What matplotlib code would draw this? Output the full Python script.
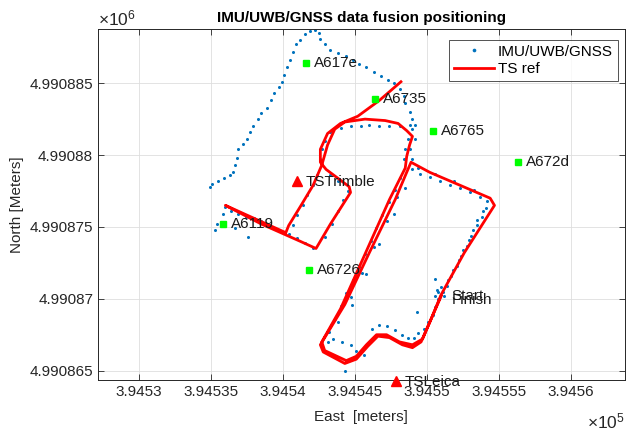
import numpy as np
import matplotlib
matplotlib.use("Agg")
import matplotlib.pyplot as plt
from matplotlib.ticker import FuncFormatter

plt.rcParams['font.family'] = ['Liberation Sans', 'DejaVu Sans']
plt.rcParams['font.size'] = 11
plt.rcParams['mathtext.fontset'] = 'custom'
plt.rcParams['mathtext.rm'] = 'Liberation Sans'

# base of the local coordinates (UTM, meters)
E0 = 394500.0
N0 = 4990860.0

# TS reference trajectory (offsets from E0 / N0, meters)
ts_e = [48.2, 46.7, 45.2, 44.0, 43.1, 42.6, 42.6, 43.0, 44.6, 44.7, 43.3, 42.3, 41.2, 38.5, 36.0,
        40.2, 40.4, 41.2, 42.1, 42.7, 43.1, 43.6, 44.3, 45.7, 47.1, 48.0, 48.6, 49.0, 48.8, 48.6,
        48.5, 47.4, 45.7, 44.0, 42.7, 42.9, 44.4, 45.1, 45.8, 46.5, 47.2, 48.1, 49.0, 49.7, 50.3,
        51.0, 52.6, 54.7, 54.4, 52.3, 50.2, 48.9, 48.6, 47.8, 46.0, 44.3, 42.6, 42.8, 44.3, 45.1,
        45.9, 46.6, 47.4, 48.3, 49.0, 49.6, 50.3, 51.0]
ts_n = [25.1, 23.8, 22.7, 22.2, 21.5, 20.4, 19.5, 19.0, 17.8, 17.4, 15.2, 13.5, 14.0, 15.2, 16.5,
        14.6, 15.1, 16.4, 17.9, 19.3, 20.7, 21.8, 22.3, 22.5, 22.4, 22.2, 21.7, 21.3, 20.7, 19.9,
        19.1, 16.9, 13.1, 9.3, 7.0, 6.4, 5.7, 6.0, 6.8, 7.5, 7.5, 7.0, 6.8, 7.2, 8.6,
        10.3, 13.2, 16.5, 17.0, 17.9, 18.8, 19.5, 18.8, 16.9, 13.2, 9.6, 6.8, 6.3, 5.5, 5.8,
        6.7, 7.4, 7.3, 6.8, 6.6, 7.0, 8.6, 10.2]

# IMU/UWB/GNSS fused positions (offsets from E0 / N0, meters)
fus_e = [34.9, 35.1, 35.5, 35.9, 36.3, 36.5, 36.7, 36.8, 36.9, 37.2, 37.5, 37.7, 37.9, 38.3, 38.5,
         38.9, 39.2, 39.4, 39.7, 39.9, 40.1, 40.3, 40.5, 40.7, 40.9, 41.2, 41.5, 41.9, 42.2, 42.5,
         42.6, 42.9, 43.3, 43.8, 44.4, 44.9, 45.3, 45.8, 46.3, 46.8, 47.3, 47.7, 48.1, 48.4, 48.5,
         48.8, 49.0, 48.8, 48.1, 47.4, 46.7, 46.0, 45.4, 44.7, 44.0, 43.3, 42.9, 42.7, 42.6,
         42.4, 42.1, 41.7, 41.4, 41.0, 40.7,
         42.1, 41.5, 41.0, 40.4, 39.7, 39.1, 38.5, 38.0, 37.4, 36.9, 36.4, 36.0, 35.8, 35.4, 35.3,
         37.6, 36.7,
         42.9, 43.4, 43.8, 44.2, 44.5, 43.8, 43.3,
         49.0, 48.7, 48.5, 48.4,
         48.1, 47.8, 47.4, 46.9, 46.5, 46.1, 45.7, 45.3, 44.9, 44.4, 44.0, 43.6, 43.2, 43.1,
         48.5, 47.7, 46.7, 45.8, 44.8,
         43.5, 44.1, 44.7, 45.1, 44.3, 45.6,
         46.2, 46.7, 47.2, 47.8, 48.3, 48.7, 49.1, 49.4, 49.8,
         50.1, 50.4, 50.6, 50.8, 51.1, 50.7, 51.4, 51.7, 52.1, 52.4, 52.8, 53.1, 53.5, 53.8,
         54.1, 54.2,
         53.7, 53.0, 52.3, 51.6, 50.9, 50.2, 49.5, 49.0,
         50.6, 49.3,
         51.5, 51.8, 52.2, 52.5, 52.9, 53.2, 53.5, 53.9,
         53.3, 51.9, 50.6, 49.4,
         50.8, 51.0, 50.6, 51.2,
         47.9, 47.2, 46.3, 45.5, 44.7, 43.8,
         49.2, 49.2, 48.8, 49.0]
fus_n = [17.8, 18.0, 18.2, 18.4, 18.6, 18.8, 19.3, 19.8, 20.4, 20.8, 21.1, 21.6, 22.0, 22.5, 22.9,
         23.3, 23.8, 24.3, 24.7, 25.1, 25.6, 26.1, 26.6, 27.2, 27.7, 28.0, 28.4, 28.6, 28.7, 28.5,
         28.1, 27.7, 27.3, 27.1, 26.9, 26.6, 26.3, 26.1, 25.8, 25.5, 25.2, 25.0, 24.6, 24.1, 23.6,
         23.0, 22.5, 22.1, 22.0, 22.0, 22.0, 22.1, 22.0, 22.0, 21.9, 21.6, 21.0, 20.4, 19.7,
         18.6, 17.9, 17.2, 16.5, 15.8, 15.1,
         13.5, 13.9, 14.2, 14.5, 14.8, 15.1, 15.4, 15.6, 15.7, 15.9, 16.1, 16.4, 15.9, 15.2, 14.8,
         14.3, 14.9,
         14.3, 15.2, 16.1, 16.9, 17.5, 18.2, 18.6,
         21.8, 21.1, 20.4, 19.7,
         18.4, 17.6, 16.7, 15.8, 14.9, 14.0, 13.1, 12.2, 11.3, 10.4, 9.5, 8.6, 7.7, 7.0,
         17.7, 15.9, 13.8, 11.7, 9.6,
         7.2, 7.0, 6.8, 6.4, 5.0, 6.1,
         7.9, 8.2, 8.1, 7.8, 7.5, 7.3, 7.3, 7.6, 7.9,
         8.4, 8.9, 9.4, 10.0, 10.5, 10.6, 10.9, 11.6, 12.3, 13.0, 13.7, 14.4, 15.1, 15.7,
         16.3, 16.8,
         17.1, 17.4, 17.7, 17.9, 18.2, 18.5, 18.7, 19.0,
         11.4, 9.1,
         11.3, 12.0, 12.7, 13.4, 14.1, 14.8, 15.5, 16.1,
         17.6, 18.2, 18.7, 19.1,
         10.5, 10.8, 10.2, 10.2,
         17.1, 15.4, 13.6, 11.8, 10.1, 8.4,
         22.1, 21.1, 20.4, 19.7]

# UWB anchors and total stations
anchor_names = ['A617e', 'A6735', 'A6765', 'A672d', 'A6119', 'A6726']
anchor_e = [41.6, 46.4, 50.4, 56.3, 35.8, 41.8]
anchor_n = [26.4, 23.9, 21.7, 19.5, 15.2, 12.0]
ts_names = ['TSTrimble', 'TSLeica']
ts_pos_e = [41.0, 47.85]
ts_pos_n = [18.2, 4.3]
start_e, start_n = 51.7, 10.2
finish_e, finish_n = 51.7, 9.9

fig = plt.figure(figsize=(6.3, 4.34), dpi=100)
ax = fig.add_axes([0.1556, 0.1244, 0.836, 0.8088])

ax.plot(E0 + np.array(fus_e), N0 + np.array(fus_n), 'o', color='#0072BD',
        markersize=2.2, markeredgewidth=0, label='IMU/UWB/GNSS')
ax.plot(E0 + np.array(ts_e), N0 + np.array(ts_n), '-', color='red', lw=2, label='TS ref')

for name, e, n in zip(anchor_names, anchor_e, anchor_n):
    ax.plot(E0 + e, N0 + n, 's', color='#00FF00', markersize=5)
    ax.annotate(name, (E0 + e, N0 + n), xytext=(6, 0), textcoords='offset points',
                va='center', ha='left', color='#1a1a1a')
for name, e, n in zip(ts_names, ts_pos_e, ts_pos_n):
    ax.plot(E0 + e, N0 + n, '^', color='red', markersize=7, clip_on=False, zorder=5)
    ax.annotate(name, (E0 + e, N0 + n), xytext=(6, -1), textcoords='offset points',
                va='center', ha='left', color='#1a1a1a', annotation_clip=False)
ax.text(E0 + start_e, N0 + start_n, 'Start', va='center', ha='left', color='#1a1a1a')
ax.text(E0 + finish_e, N0 + finish_n, 'Finish', va='center', ha='left', color='#1a1a1a')

ax.set_xlim(394527.15, 394563.75)
ax.set_ylim(4990864.35, 4990888.77)
ax.set_xticks(np.arange(394530, 394561, 5))
ax.set_yticks(np.arange(4990865, 4990886, 5))
ax.xaxis.set_major_formatter(FuncFormatter(lambda v, p: f"{v/1e5:.6g}"))
ax.yaxis.set_major_formatter(FuncFormatter(lambda v, p: f"{v/1e6:.7g}"))

ax.grid(True, color='#dedede', linewidth=0.6)
ax.set_axisbelow(True)
ax.tick_params(direction='in', length=4, width=0.6, colors='#262626', labelsize=11,
               top=True, right=True)
for s in ax.spines.values():
    s.set_color('#262626')
    s.set_linewidth(0.7)

ax.set_title('IMU/UWB/GNSS data fusion positioning', fontsize=11, fontweight='bold', pad=5)
ax.set_xlabel('East  [meters]', color='#262626', labelpad=8)
ax.set_ylabel('North [Meters]', color='#262626', labelpad=4)
ax.text(0, 1.003, r'$\times\mathregular{10^6}$', transform=ax.transAxes, ha='left', va='bottom',
        color='#262626', fontsize=12.5)
ax.text(1, -0.09, r'$\times\mathregular{10^5}$', transform=ax.transAxes, ha='right', va='top',
        color='#262626', fontsize=12.5)

leg = ax.legend(loc='upper right', bbox_to_anchor=(0.9867, 0.9687), borderaxespad=0,
                fancybox=False, edgecolor='#262626', handlelength=2.6, handletextpad=0.3,
                borderpad=0.3, labelspacing=0.25, markerscale=1.2)
leg.get_frame().set_linewidth(0.7)

fig.savefig('out.png', dpi=100)
